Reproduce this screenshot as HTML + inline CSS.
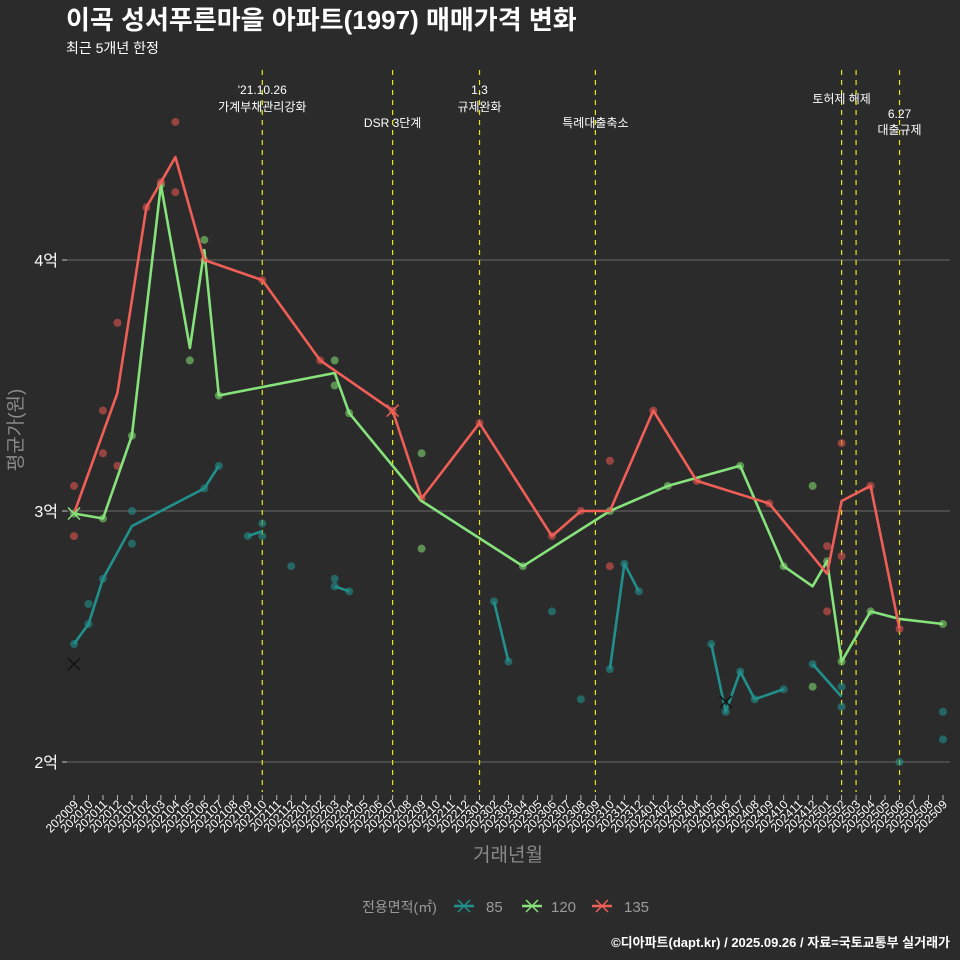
<!DOCTYPE html>
<html><head><meta charset="utf-8">
<style>
html,body{margin:0;padding:0;background:#2b2b2b;}
svg{display:block;font-family:"Liberation Sans","Noto Sans CJK KR",sans-serif;}
</style></head>
<body>
<svg id="chart" width="960" height="960" viewBox="0 0 960 960" xmlns="http://www.w3.org/2000/svg">
<rect width="960" height="960" fill="#2b2b2b"/>
<text x="66" y="29" fill="#ffffff" font-size="26" font-weight="bold">이곡 성서푸른마을 아파트(1997) 매매가격 변화</text>
<text x="66" y="53" fill="#ffffff" font-size="14">최근 5개년 한정</text>
<g id="grid"></g>
<g id="events"></g>
<g id="series"></g>
<g id="axes"></g>
<text x="0" y="0" transform="translate(22,430) rotate(-90)" fill="#8a8a8a" font-size="19" text-anchor="middle">평균가(원)</text>
<text x="508" y="861" fill="#8a8a8a" font-size="19" text-anchor="middle">거래년월</text>
<g>
<text x="362" y="912" fill="#9a9a9a" font-size="14">전용면적(㎡)</text>
<g>
<line x1="454" y1="906" x2="474" y2="906" stroke="#21908c" stroke-width="2.5"/>
<path d="M458 900 L470 912 M470 900 L458 912" stroke="#21908c" stroke-width="1.5"/>
<text x="486" y="912" fill="#9a9a9a" font-size="15">85</text></g>
<g>
<line x1="522" y1="906" x2="542" y2="906" stroke="#86e27a" stroke-width="2.5"/>
<path d="M526 900 L538 912 M538 900 L526 912" stroke="#86e27a" stroke-width="1.5"/>
<text x="551" y="912" fill="#9a9a9a" font-size="15">120</text></g>
<g>
<line x1="592" y1="906" x2="612" y2="906" stroke="#ef5f57" stroke-width="2.5"/>
<path d="M596 900 L608 912 M608 900 L596 912" stroke="#ef5f57" stroke-width="1.5"/>
<text x="624" y="912" fill="#9a9a9a" font-size="15">135</text></g>
</g>
<text x="950" y="947" fill="#ffffff" font-size="13" font-weight="bold" text-anchor="end">©디아파트(dapt.kr) / 2025.09.26 / 자료=국토교통부 실거래가</text>
</svg>
<script>
const yTicks=[2,3,4];
const yTickLabels=["2억","3억","4억"];
const eventMonths=[13,22,28,36,53,54,57];
const eventLabels=[["'21.10.26","가계부채관리강화"],["DSR 3단계"],["1.3","규제완화"],["특례대출축소"],["토허제 해제"],[],["6.27","대출규제"]];
const eventLabelY=[[94,111],[127],[94,111],[127],[103],[],[118,134]];
const eventLabelDx=[0,0,0,0,0,0,0];
const line85M=[0,1,2,4,9,10,null,12,13,null,18,19,null,29,30,null,37,38,39,null,44,45,46,47,49,null,51,53];
const line85V=[2.47,2.55,2.73,2.94,3.09,3.18,null,2.90,2.92,null,2.70,2.68,null,2.64,2.40,null,2.37,2.79,2.68,null,2.47,2.20,2.36,2.25,2.29,null,2.39,2.26];
const line120M=[0,2,4,6,8,9,10,18,19,24,31,37,41,46,49,51,52,53,55,57,60];
const line120V=[2.99,2.97,3.30,4.30,3.65,4.04,3.46,3.55,3.39,3.04,2.78,3.00,3.10,3.18,2.78,2.70,2.80,2.40,2.60,2.57,2.55];
const line135M=[0,3,5,6,7,9,13,17,22,24,28,33,35,37,40,43,48,52,53,55,57];
const line135V=[2.99,3.47,4.21,4.31,4.41,4.00,3.92,3.60,3.40,3.05,3.35,2.90,3.00,3.00,3.40,3.12,3.03,2.75,3.04,3.10,2.53];
const dots85M=[0,1,1,2,4,4,9,10,12,13,13,15,18,18,19,29,30,33,35,37,38,39,44,45,46,47,49,51,53,53,57,60,60];
const dots85V=[2.47,2.63,2.55,2.73,3.00,2.87,3.09,3.18,2.90,2.95,2.90,2.78,2.73,2.70,2.68,2.64,2.40,2.60,2.25,2.37,2.79,2.68,2.47,2.20,2.36,2.25,2.29,2.39,2.30,2.22,2.00,2.20,2.09];
const dots120M=[0,2,4,6,8,9,10,18,18,19,24,24,31,37,41,46,49,51,51,52,53,55,60];
const dots120V=[2.99,2.97,3.30,4.30,3.60,4.08,3.46,3.60,3.50,3.39,3.23,2.85,2.78,3.00,3.10,3.18,2.78,3.10,2.30,2.80,2.40,2.60,2.55];
const dots135M=[0,0,2,2,3,3,5,6,7,7,9,13,17,22,24,28,33,35,37,37,40,43,48,52,52,53,53,55,57];
const dots135V=[3.10,2.90,3.40,3.23,3.75,3.18,4.21,4.31,4.55,4.27,4.00,3.92,3.60,3.40,3.05,3.35,2.90,3.00,3.20,2.78,3.40,3.12,3.03,2.86,2.60,3.27,2.82,3.10,2.53];
const xMarks85=[[0,2.39],[45,2.24]];
const xMarks120=[[0,2.99]];
const xMarks135=[[22,3.40]];

const NS="http://www.w3.org/2000/svg";
const X0=74,DX=14.483,NM=61;
function xs(i){return X0+i*DX;}
function ys(v){return 511-(v-3)*251;}
function mk(tag,attrs,parent){const e=document.createElementNS(NS,tag);for(const k in attrs)e.setAttribute(k,attrs[k]);parent.appendChild(e);return e;}
const grid=document.getElementById('grid'),axes=document.getElementById('axes'),ev=document.getElementById('events'),ser=document.getElementById('series');
yTicks.forEach((t,k)=>{
  const g=mk('line',{x1:62,x2:950,y1:ys(t),y2:ys(t),stroke:'#5e5e5e','stroke-width':1.2},grid);
  
  
  const tk=mk('line',{x1:62,x2:67,y1:ys(t),y2:ys(t),stroke:'#bbbbbb','stroke-width':1},axes);
  
  
  const tx=mk('text',{x:58,y:ys(t)+6,fill:'#ffffff','font-size':16,'text-anchor':'end'},axes);
  tx.textContent=yTickLabels[k];
  
  
});
for(let i=0;i<NM;i++){
  const yr=2020+Math.floor((8+i)/12),mo=((8+i)%12)+1;
  const lab=yr+String(mo).padStart(2,'0');
  const tk=mk('line',{x1:xs(i),x2:xs(i),y1:795,y2:800,stroke:'#bbbbbb','stroke-width':1},axes);
  
  
  const tx=mk('text',{x:0,y:0,fill:'#ffffff','font-size':12,'text-anchor':'end',transform:`translate(${xs(i)+5},${805}) rotate(-45)`},axes);
  tx.textContent=lab;
  
  
}
eventMonths.forEach((m,k)=>{
  const l=mk('line',{x1:xs(m),x2:xs(m),y1:70,y2:792,stroke:'#e6e617','stroke-width':1.2,'stroke-dasharray':'5,5'},ev);
  
  
  eventLabels[k].forEach((s,j)=>{
    const t=mk('text',{x:xs(m)+eventLabelDx[k],y:eventLabelY[k][j],fill:'#ffffff','font-size':12,'text-anchor':'middle'},ev);
    t.textContent=s;
    
    
  });
});
function drawDots(M,V,col,name){
  M.forEach((m,k)=>{
    const c=mk('circle',{cx:xs(m),cy:ys(V[k]),r:4,fill:col,opacity:0.6},ser);
    
    
  });
}
function drawLine(M,V,col,name){
  let d='',pen=false;
  M.forEach((m,k)=>{
    if(m===null||V[k]===null){pen=false;return;}
    d+=(pen?'L':'M')+xs(m).toFixed(1)+' '+ys(V[k]).toFixed(1)+' ';pen=true;
  });
  const p=mk('path',{d:d,fill:'none',stroke:col,'stroke-width':2.6,'stroke-linejoin':'round'},ser);
  
  
}
function drawX(arr,col,name){
  arr.forEach(a=>{
    const x=xs(a[0]),y=ys(a[1]);
    const p=mk('path',{d:`M${x-6} ${y-6}L${x+6} ${y+6}M${x+6} ${y-6}L${x-6} ${y+6}`,stroke:col,'stroke-width':1.5},ser);
    
    
  });
}
drawDots(dots85M,dots85V,'#21908c','dot-85');
drawDots(dots120M,dots120V,'#7fd36e','dot-120');
drawDots(dots135M,dots135V,'#e0554f','dot-135');
drawLine(line85M,line85V,'#21908c','line-85');
drawLine(line120M,line120V,'#86e27a','line-120');
drawLine(line135M,line135V,'#ef5f57','line-135');
drawX(xMarks85,'#111111','mean-marker-85');
drawX(xMarks120,'#86e27a','mean-marker-120');
drawX(xMarks135,'#ef5f57','mean-marker-135');
</script>
</body></html>
